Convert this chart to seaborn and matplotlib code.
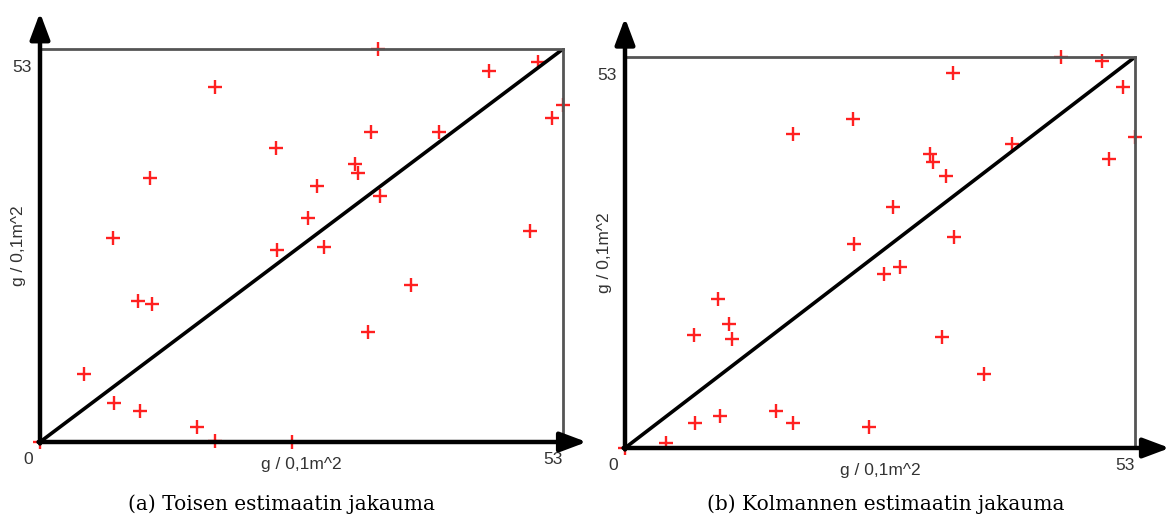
import matplotlib
matplotlib.use("Agg")
import matplotlib.pyplot as plt
import seaborn as sns
import pandas as pd

# ---- data (g / 0,1m^2) ----
LIM = 53
a_x = [0, 4.5, 7.5, 10.1, 9.9, 11.4, 15.9, 17.7, 25.5, 7.4, 11.1, 17.7, 23.9, 24.0, 27.2,
       28.1, 28.8, 31.9, 32.2, 33.5, 34.5, 34.3, 40.4, 45.5, 50.5, 51.9, 53.0, 49.7, 37.6, 33.2]
a_y = [0, 9.2, 5.3, 4.2, 19.0, 18.6, 2.0, 0.1, 0.0, 27.5, 35.6, 47.9, 39.6, 25.9, 30.2,
       34.5, 26.3, 37.5, 36.3, 41.8, 33.2, 53.0, 41.8, 50.0, 51.2, 43.7, 45.4, 28.5, 21.2, 14.8]

b_x = [0, 4.3, 7.3, 9.9, 15.7, 17.5, 25.4, 7.2, 9.7, 10.8, 11.1, 26.9, 28.6, 32.9, 37.3,
       17.5, 23.7, 23.8, 34.1, 27.8, 31.7, 32.0, 33.4, 34.2, 40.2, 45.3, 49.6, 51.8, 53.0, 50.3]
b_y = [0, 0.7, 3.4, 4.3, 5.0, 3.4, 2.9, 15.3, 20.2, 16.8, 14.8, 23.6, 24.5, 15.0, 10.0,
       42.6, 44.6, 27.7, 50.8, 32.7, 39.9, 38.8, 36.9, 28.6, 41.2, 53.0, 52.5, 48.9, 42.2, 39.2]

captions = ["(a) Toisen estimaatin jakauma", "(b) Kolmannen estimaatin jakauma"]
axis_label = "g / 0,1m^2"
tick_zero = "0"
tick_max = "53"

sns.set_style("white")
plt.rcParams['font.family'] = ['Liberation Sans', 'DejaVu Sans']

fig = plt.figure(figsize=(11.71, 5.17), dpi=100)

panels = [
    dict(x=a_x, y=a_y, rect=[40/1171, 75/517, 523/1171, 393/517], ytip=57.9, xtip=55.4,
         cap_x=282/1171),
    dict(x=b_x, y=b_y, rect=[625/1171, 69/517, 510/1171, 391/517], ytip=58.3, xtip=56.6,
         cap_x=886/1171),
]

for p, cap in zip(panels, captions):
    ax = fig.add_axes(p["rect"])
    df = pd.DataFrame({"x": p["x"], "y": p["y"]})
    sns.scatterplot(data=df, x="x", y="y", marker="+", color="#ff2020", s=115,
                    linewidth=1.7, ax=ax, clip_on=False, zorder=2)
    ax.plot([0, LIM], [0, LIM], color="black", lw=2.6, zorder=3, solid_capstyle="round")
    ax.set_xlim(0, LIM)
    ax.set_ylim(0, LIM)
    for s in ["top", "right"]:
        ax.spines[s].set_visible(True)
        ax.spines[s].set_color("#555555")
        ax.spines[s].set_linewidth(2.0)
        ax.spines[s].set_zorder(3)
    for s in ["left", "bottom"]:
        ax.spines[s].set_visible(False)
    ax.set_xticks([])
    ax.set_yticks([])
    ax.set_xlabel("")
    ax.set_ylabel("")
    # axis arrows
    arrow = dict(arrowstyle="-|>,head_length=0.8,head_width=0.3", lw=3.2, color="black",
                 shrinkA=0, shrinkB=0, mutation_scale=20)
    ax.annotate("", xy=(0, p["ytip"]), xytext=(0, -0.2), arrowprops=arrow,
                annotation_clip=False, zorder=4)
    ax.annotate("", xy=(p["xtip"], 0), xytext=(-0.15, 0), arrowprops=arrow,
                annotation_clip=False, zorder=4)
    # tick labels
    tk = dict(textcoords="offset pixels", ha="center", va="center", fontsize=12.5,
              color="#333333", annotation_clip=False)
    ax.annotate(tick_zero, xy=(0, 0), xytext=(-12, -18), **tk)
    ax.annotate(tick_max, xy=(0, LIM), xytext=(-18, -18), **tk)
    ax.annotate(tick_max, xy=(LIM, 0), xytext=(-10, -18), **tk)
    # axis labels
    ax.annotate(axis_label, xy=(LIM / 2, 0), xytext=(0, -23), **tk)
    ax.annotate(axis_label, xy=(0, LIM / 2), xytext=(-21, 0), rotation=90, **tk)
    fig.text(p["cap_x"], 1 - 504/517, cap, ha="center", va="center", fontsize=14.5,
             family=["DejaVu Serif"], color="black")

fig.savefig("out.png", dpi=100)
